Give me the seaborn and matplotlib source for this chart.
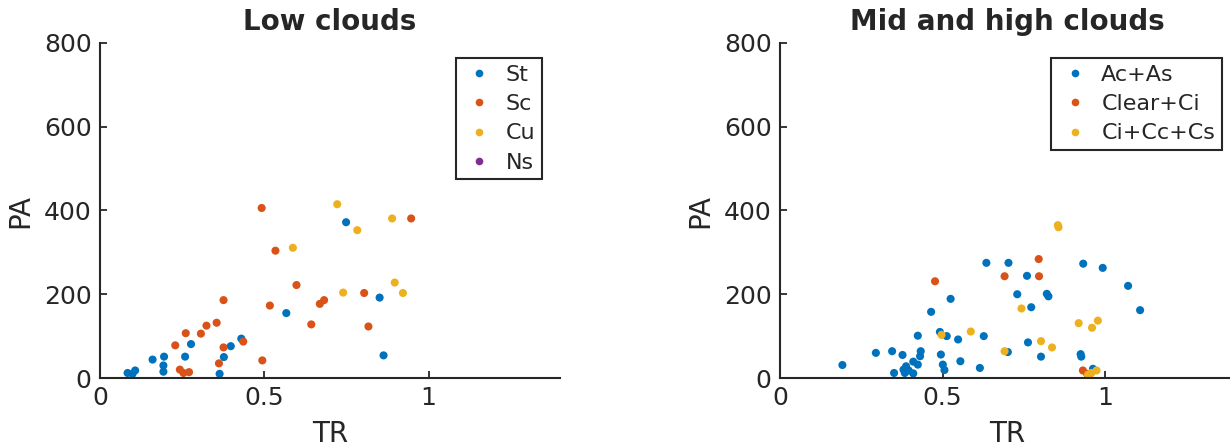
import matplotlib
matplotlib.use("Agg")
import matplotlib.pyplot as plt
import seaborn as sns
import pandas as pd

sns.set_style("ticks")
plt.rcParams["font.family"] = ["DejaVu Sans"]

# ---- Low clouds ----
st_tr = [0.084, 0.099, 0.107, 0.160, 0.195, 0.193, 0.193, 0.259, 0.277, 0.364,
         0.377, 0.398, 0.430, 0.567, 0.749, 0.851, 0.863]
st_pa = [12, 10, 18, 44, 51, 30, 15, 51, 81, 10,
         50, 76, 94, 155, 372, 192, 54]

sc_tr = [0.492, 0.534, 0.598, 0.376, 0.517, 0.669, 0.682, 0.355, 0.324, 0.261,
         0.307, 0.643, 0.229, 0.376, 0.436, 0.362, 0.494, 0.243, 0.254, 0.271,
         0.947, 0.804, 0.817]
sc_pa = [406, 304, 222, 186, 173, 177, 186, 132, 125, 107,
         106, 128, 78, 73, 87, 35, 42, 20, 12, 14,
         381, 203, 123]

cu_tr = [0.722, 0.587, 0.740, 0.783, 0.889, 0.897, 0.922]
cu_pa = [415, 311, 204, 353, 381, 228, 203]

ns_tr = []
ns_pa = []

# ---- Mid and high clouds ----
acas_tr = [0.192, 0.295, 0.345, 0.377, 0.351, 0.388, 0.380, 0.396, 0.384, 0.410,
           0.410, 0.424, 0.431, 0.433, 0.424, 0.465, 0.492, 0.513, 0.495, 0.501,
           0.506, 0.525, 0.548, 0.555, 0.615, 0.627, 0.635, 0.701, 0.703, 0.730,
           0.760, 0.763, 0.773, 0.803, 0.821, 0.826, 0.925, 0.927, 0.933, 0.963,
           0.993, 1.071, 1.108]
acas_pa = [31, 60, 64, 55, 12, 28, 20, 18, 12, 11,
           39, 32, 52, 64, 101, 158, 110, 100, 56, 32,
           19, 189, 92, 40, 24, 100, 275, 62, 275, 200,
           244, 85, 169, 51, 201, 195, 57, 51, 273, 22,
           263, 220, 162]

clci_tr = [0.477, 0.691, 0.796, 0.797, 0.932, 0.951, 0.945]
clci_pa = [231, 243, 284, 243, 18, 2, 10]

cicc_tr = [0.497, 0.587, 0.691, 0.743, 0.803, 0.837, 0.855, 0.857, 0.919, 0.960,
           0.978, 0.948, 0.958, 0.974]
cicc_pa = [103, 111, 64, 166, 88, 73, 365, 360, 131, 120,
           137, 8, 12, 18]

low_types = ["St", "Sc", "Cu", "Ns"]
mid_types = ["Ac+As", "Clear+Ci", "Ci+Cc+Cs"]
colors = ["#0072BD", "#D95319", "#EDB120", "#7E2F8E"]


def make_df(groups):
    rows = []
    for name, xs, ys in groups:
        for x, y in zip(xs, ys):
            rows.append({"TR": x, "PA": y, "type": name})
    return pd.DataFrame(rows)


low = make_df([("St", st_tr, st_pa), ("Sc", sc_tr, sc_pa),
               ("Cu", cu_tr, cu_pa), ("Ns", ns_tr, ns_pa)])
mid = make_df([("Ac+As", acas_tr, acas_pa), ("Clear+Ci", clci_tr, clci_pa),
               ("Ci+Cc+Cs", cicc_tr, cicc_pa)])

fig = plt.figure(figsize=(12.3, 4.48), dpi=100)
ax1 = fig.add_axes([100 / 1230, 70 / 448, 460 / 1230, 335 / 448])
ax2 = fig.add_axes([780 / 1230, 70 / 448, 455 / 1230, 335 / 448])

panels = [
    (ax1, low, low_types, "Low clouds", (0.961, 0.955)),
    (ax2, mid, mid_types, "Mid and high clouds", (0.971, 0.955)),
]

for ax, df, order, title, anchor in panels:
    pal = dict(zip(order, colors[:len(order)]))
    sns.scatterplot(data=df, x="TR", y="PA", hue="type", hue_order=order,
                    palette=pal, s=34, linewidth=0, ax=ax, legend=False)
    handles = [plt.Line2D([], [], marker="o", linestyle="", markersize=5.5,
                          markerfacecolor=pal[k], markeredgewidth=0, label=k)
               for k in order]
    leg = ax.legend(handles=handles, loc="upper right", bbox_to_anchor=anchor,
                    borderaxespad=0, fancybox=False, framealpha=1,
                    edgecolor="#262626", fontsize=16, handletextpad=0.45,
                    labelspacing=0.42, borderpad=0.3, handlelength=1.5)
    leg.get_frame().set_linewidth(1.5)

    ax.set_xlim(0, 1.4)
    ax.set_ylim(0, 800)
    ax.set_xticks([0, 0.5, 1])
    ax.set_xticklabels(["0", "0.5", "1"])
    ax.set_yticks([0, 200, 400, 600, 800])
    ax.tick_params(direction="in", length=5, width=1.3, labelsize=18,
                   colors="#262626", pad=6)
    sns.despine(ax=ax)
    for sp in ["left", "bottom"]:
        ax.spines[sp].set_linewidth(1.5)
        ax.spines[sp].set_color("#262626")
    ax.set_xlabel("TR", fontsize=20, color="#262626", labelpad=7)
    ax.set_ylabel("PA", fontsize=20, color="#262626", labelpad=7)
    ax.set_title(title, fontsize=20, fontweight="bold", pad=9)

fig.savefig("out.png", dpi=100)
